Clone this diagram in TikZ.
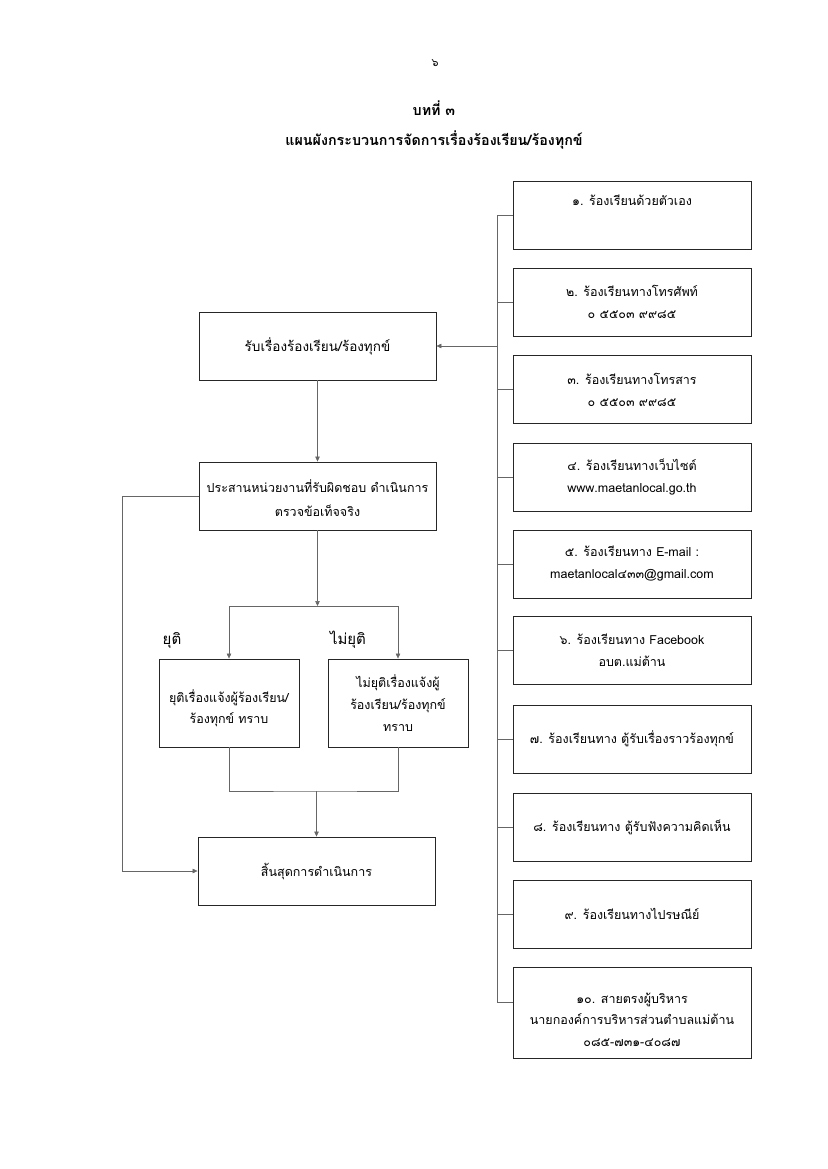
\documentclass[tikz,border=0pt]{standalone}
\usepackage{fontspec}
\setmainfont[Script=Thai]{Loma}
\usetikzlibrary{arrows.meta,calc}
\begin{document}
\begin{tikzpicture}[x=1pt,y=-1pt,
  box/.style={draw=black!85, line width=0.9pt, align=center, inner sep=0pt,
    font=\fontsize{12.5}{22}\selectfont},
  lbox/.style={box, minimum width=237pt, minimum height=68pt},
  sbox/.style={box, minimum width=140pt, minimum height=88pt},
  rbox/.style={box, minimum width=238pt, minimum height=68pt},
  intext/.style={align=center, inner sep=0pt, font=\fontsize{12.5}{21.5}\selectfont},
  con/.style={draw=black!60, line width=0.5pt},
  arr/.style={con, -{Triangle[length=5pt,width=4.5pt]}},
  lbl/.style={font=\fontsize{15}{18}\selectfont, inner sep=0pt}]
\useasboundingbox (0,0) rectangle (827,1169);
\fill[white] (0,0) rectangle (827,1169);

% header
\node[font=\fontsize{11}{13}\selectfont] (pg) at (435,63) {๖};
\node[font=\bfseries\fontsize{14.3}{18}\selectfont] (t1) at (434,108) {บทที่ ๓};
\node[font=\bfseries\fontsize{14.3}{18}\selectfont] (t2) at (434,140) {แผนผังกระบวนการจัดการเรื่องร้องเรียน/ร้องทุกข์};

% left flow
\node[lbox, font=\fontsize{13.5}{22}\selectfont] (A) at (317.5,346) {รับเรื่องร้องเรียน/ร้องทุกข์};
\node[lbox, font=\fontsize{12.5}{24}\selectfont, label={[intext, font=\fontsize{12.5}{24}\selectfont, yshift=-2pt]center:ประสานหน่วยงานที่รับผิดชอบ ดำเนินการ\\ตรวจข้อเท็จจริง}] (B) at (317.5,496) {};
\node[sbox, label={[intext, yshift=-5pt]center:ยุติเรื่องแจ้งผู้ร้องเรียน/\\ร้องทุกข์ ทราบ}] (C) at (229,703) {};
\node[sbox] (D) at (398,703) {ไม่ยุติเรื่องแจ้งผู้\\ร้องเรียน/ร้องทุกข์\\ทราบ};
\node[lbox] (E) at (316.5,871) {สิ้นสุดการดำเนินการ};
\node[lbl] (l1) at (172,640) {ยุติ};
\node[lbl] (l2) at (348,640) {ไม่ยุติ};

% right boxes
\node[rbox] (r1) at (632,215) {๑. ร้องเรียนด้วยตัวเอง\\\strut};
\node[rbox] (r2) at (632,302) {๒. ร้องเรียนทางโทรศัพท์\\๐ ๕๕๐๓ ๙๙๘๕};
\node[rbox] (r3) at (632,389.5) {๓. ร้องเรียนทางโทรสาร\\๐ ๕๕๐๓ ๙๙๘๕};
\node[rbox] (r4) at (632,477) {๔. ร้องเรียนทางเว็บไซต์\\www.maetanlocal.go.th};
\node[rbox] (r5) at (632,564) {๕. ร้องเรียนทาง E-mail :\\maetanlocal๔๓๓@gmail.com};
\node[rbox] (r6) at (632,650.5) {๖. ร้องเรียนทาง Facebook\\อบต.แม่ต้าน};
\node[rbox] (r7) at (632,739) {๗. ร้องเรียนทาง ตู้รับเรื่องราวร้องทุกข์};
\node[rbox] (r8) at (632,827) {๘. ร้องเรียนทาง ตู้รับฟังความคิดเห็น};
\node[rbox] (r9) at (632,914) {๙. ร้องเรียนทางไปรษณีย์};
\node[rbox, minimum height=91pt, label={[intext, yshift=-7pt]center:๑๐. สายตรงผู้บริหาร\\นายกองค์การบริหารส่วนตำบลแม่ต้าน\\๐๘๕-๗๓๑-๔๐๘๗}] (r10) at (632,1012.5) {};

% bus
\coordinate (bt) at (497,215);
\coordinate (t10) at ($(r10.west)+(0,-10)$);
\coordinate (bb) at (t10 -| bt);
\draw[con] (bt) -- (bb);
\foreach \r in {r1,r2,r3,r4,r5,r6,r7,r8,r9} {\draw[con] (\r.west -| bt) -- (\r.west);}
\draw[con] (bb) -- (t10);
\draw[arr] (A.east -| bt) -- (A.east);

% left connectors
\draw[arr] (A.south) -- (B.north);
\coordinate (sp) at (317.5,606);
\draw[arr] (B.south) -- (sp);
\draw[con] (sp -| C) -- (sp -| D);
\draw[arr] (sp -| C) -- (C.north);
\draw[arr] (sp -| D) -- (D.north);
\coordinate (mg) at (316.5,791);
\draw[con] (C.south) |- (mg) -| (D.south);
\draw[arr] (mg) -- (E.north);
\coordinate (fb) at (122,496);
\draw[arr] (B.west) -- (fb) |- (E.west);
\end{tikzpicture}
\end{document}
